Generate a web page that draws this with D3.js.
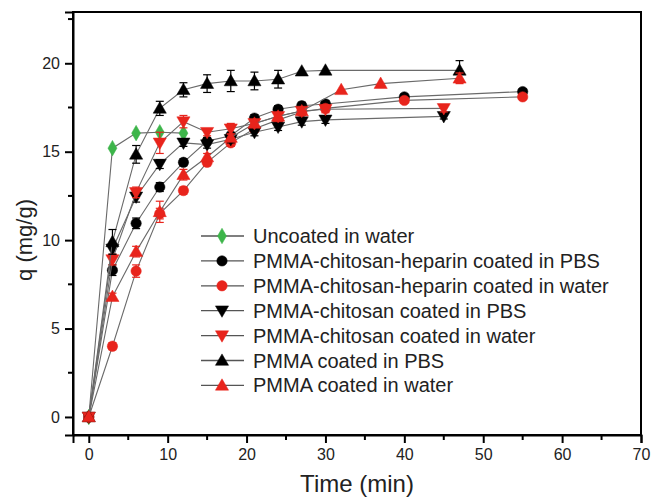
<!DOCTYPE html>
<html><head><meta charset="utf-8">
<script src="https://cdn.jsdelivr.net/npm/d3@7"></script>
<style>body{margin:0;background:#fff}svg{display:block}</style>
</head><body><svg id="c" width="652" height="497"></svg>
<script>
const xTicks = [0,10,20,30,40,50,60,70];
const yTicks = [0,5,10,15,20];
const seriesNames = ["Uncoated in water","PMMA-chitosan-heparin coated in PBS","PMMA-chitosan-heparin coated in water","PMMA-chitosan coated in PBS","PMMA-chitosan coated in water","PMMA coated in PBS","PMMA coated in water"];
const seriesColors = ["#3db54a","#000000","#e8241c","#000000","#e8241c","#000000","#e8241c"];
const seriesShapes = ["diamond","circle","circle","down","down","up","up"];

const tUncoated = [0,3,6,9,12];
const qUncoated = [0,15.2,16.05,16.1,16.05];
const tHepPBS = [0,3,6,9,12,15,18,21,24,27,30,40,55];
const qHepPBS = [0,8.3,10.95,13.0,14.4,15.6,15.9,16.9,17.4,17.6,17.7,18.1,18.4];
const eHepPBS = [0,0.3,0.3,0.25,0.2,0.2,0.2,0.2,0.2,0.2,0.2,0.15,0.15];
const tHepWater = [0,3,6,9,12,15,18,21,24,27,30,40,55];
const qHepWater = [0,4.0,8.25,11.5,12.8,14.4,15.5,16.3,16.8,17.25,17.45,17.9,18.1];
const eHepWater = [0,0.2,0.35,0.3,0.2,0.2,0.2,0.2,0.2,0.2,0.2,0.15,0.15];
const tChiPBS = [0,3,6,9,12,15,18,21,24,27,30,45];
const qChiPBS = [0,9.5,12.45,14.3,15.5,15.4,15.7,16.1,16.4,16.7,16.8,17.0];
const eChiPBS = [0,0.3,0.3,0.25,0.2,0.2,0.2,0.2,0.2,0.2,0.2,0.15];
const tChiWater = [0,3,6,9,12,15,18,21,24,27,30,45];
const qChiWater = [0,8.9,12.7,15.5,16.7,16.1,16.3,16.6,17.0,17.3,17.4,17.45];
const eChiWater = [0,0.3,0.3,0.6,0.35,0.2,0.3,0.2,0.2,0.2,0.2,0.2];
const tPmmaPBS = [0,3,6,9,12,15,18,21,24,27,30,47];
const qPmmaPBS = [0,9.9,14.85,17.45,18.5,18.85,19.0,19.0,19.1,19.55,19.6,19.6];
const ePmmaPBS = [0,0.7,0.5,0.4,0.4,0.5,0.6,0.5,0.5,0,0,0.55];
const tPmmaWater = [0,3,6,9,12,15,18,21,24,27,32,37,47];
const qPmmaWater = [0,6.8,9.35,11.6,13.7,14.7,15.8,16.6,17.0,17.3,18.5,18.85,19.15];
const ePmmaWater = [0,0.2,0.3,0.6,0.3,0.2,0.2,0.2,0.2,0.2,0,0,0.3];

const seriesT = [tUncoated,tHepPBS,tHepWater,tChiPBS,tChiWater,tPmmaPBS,tPmmaWater];
const seriesQ = [qUncoated,qHepPBS,qHepWater,qChiPBS,qChiWater,qPmmaPBS,qPmmaWater];
const seriesE = [null,eHepPBS,eHepWater,eChiPBS,eChiWater,ePmmaPBS,ePmmaWater];

const svg = d3.select("#c");
const L=73,R=641,T=12,B=435;
const x = d3.scaleLinear().domain([-2,70]).range([L,R]);
const y = d3.scaleLinear().domain([-1.02,22.9]).range([B,T]);
const font = "Liberation Sans, Arial, sans-serif";

// frame
svg.append("rect").attr("x",L).attr("y",T).attr("width",R-L).attr("height",B-T)
  .attr("fill","none").attr("stroke","#000").attr("stroke-width",2);

// axes
const xAxis = d3.axisBottom(x).tickValues(xTicks).tickSize(8).tickPadding(6).tickFormat(d3.format("d"));
const gx = svg.append("g").attr("transform",`translate(0,${B})`).call(xAxis);
const yAxis = d3.axisLeft(y).tickValues(yTicks).tickSize(8).tickPadding(5).tickFormat(d3.format("d"));
const gy = svg.append("g").attr("transform",`translate(${L},0)`).call(yAxis);
[gx,gy].forEach(g=>{
  g.select(".domain").attr("stroke-width",2);
  g.selectAll(".tick line").attr("stroke-width",2);
  g.selectAll("text").attr("font-family",font).attr("font-size",16).attr("fill","#222");
});
const xMinor = d3.range(5,70,10);
const yMinor = [2.5,7.5,12.5,17.5,22.5];
svg.append("g").selectAll("line").data(xMinor).join("line")
  .attr("x1",d=>x(d)).attr("x2",d=>x(d)).attr("y1",B).attr("y2",B+5)
  .attr("stroke","#000").attr("stroke-width",2);
svg.append("g").selectAll("line").data(yMinor).join("line")
  .attr("y1",d=>y(d)).attr("y2",d=>y(d)).attr("x1",L).attr("x2",L-5)
  .attr("stroke","#000").attr("stroke-width",2);

// titles
svg.append("text").attr("x",(L+R)/2).attr("y",492).attr("text-anchor","middle")
  .attr("font-family",font).attr("font-size",24).attr("fill","#222").text("Time (min)");
svg.append("text").attr("transform",`translate(32,240) rotate(-90)`).attr("text-anchor","middle")
  .attr("font-family",font).attr("font-size",22).attr("fill","#222").text("q (mg/g)");

function sym(shape){
  if(shape==="diamond") return d3.symbol(d3.symbolDiamond,70)();
  if(shape==="circle") return d3.symbol(d3.symbolCircle,85)();
  return d3.symbol(d3.symbolTriangle,75)();
}
function addMarker(g,shape,color,px,py){
  g.append("path").attr("d",sym(shape))
   .attr("transform",`translate(${px},${py})`+(shape==="down"?" rotate(180)":"")+(shape==="up"||shape==="down"?" translate(0,1)":""))
   .attr("fill",color).attr("stroke",color).attr("stroke-width",0.5);
}

const line = d3.line();
seriesNames.forEach((name,i)=>{
  const g = svg.append("g");
  const pts = seriesT[i].map((t,j)=>[x(t),y(seriesQ[i][j])]);
  g.append("path").attr("d",line(pts)).attr("fill","none")
   .attr("stroke","#6a6a6a").attr("stroke-width",1.1);
  if(seriesE[i]){
    seriesT[i].forEach((t,j)=>{
      const e=seriesE[i][j]; if(!e) return;
      const cx=x(t), y1=y(seriesQ[i][j]-e), y2=y(seriesQ[i][j]+e);
      g.append("line").attr("x1",cx).attr("x2",cx).attr("y1",y1).attr("y2",y2).attr("stroke",seriesColors[i]).attr("stroke-width",1.2);
      [y1,y2].forEach(yy=>g.append("line").attr("x1",cx-4).attr("x2",cx+4).attr("y1",yy).attr("y2",yy).attr("stroke",seriesColors[i]).attr("stroke-width",1.2));
    });
  }
  pts.forEach(p=>addMarker(g,seriesShapes[i],seriesColors[i],p[0],p[1]));
});

// legend
const lg = svg.append("g");
seriesNames.forEach((name,i)=>{
  const yy = 236 + i*24.9;
  lg.append("line").attr("x1",201).attr("x2",244).attr("y1",yy).attr("y2",yy).attr("stroke","#555").attr("stroke-width",1.3);
  addMarker(lg,seriesShapes[i],seriesColors[i],222,yy);
  lg.append("text").attr("x",253).attr("y",yy+7).attr("font-family",font).attr("font-size",20)
    .attr("fill","#222").text(name);
});
</script></body></html>
